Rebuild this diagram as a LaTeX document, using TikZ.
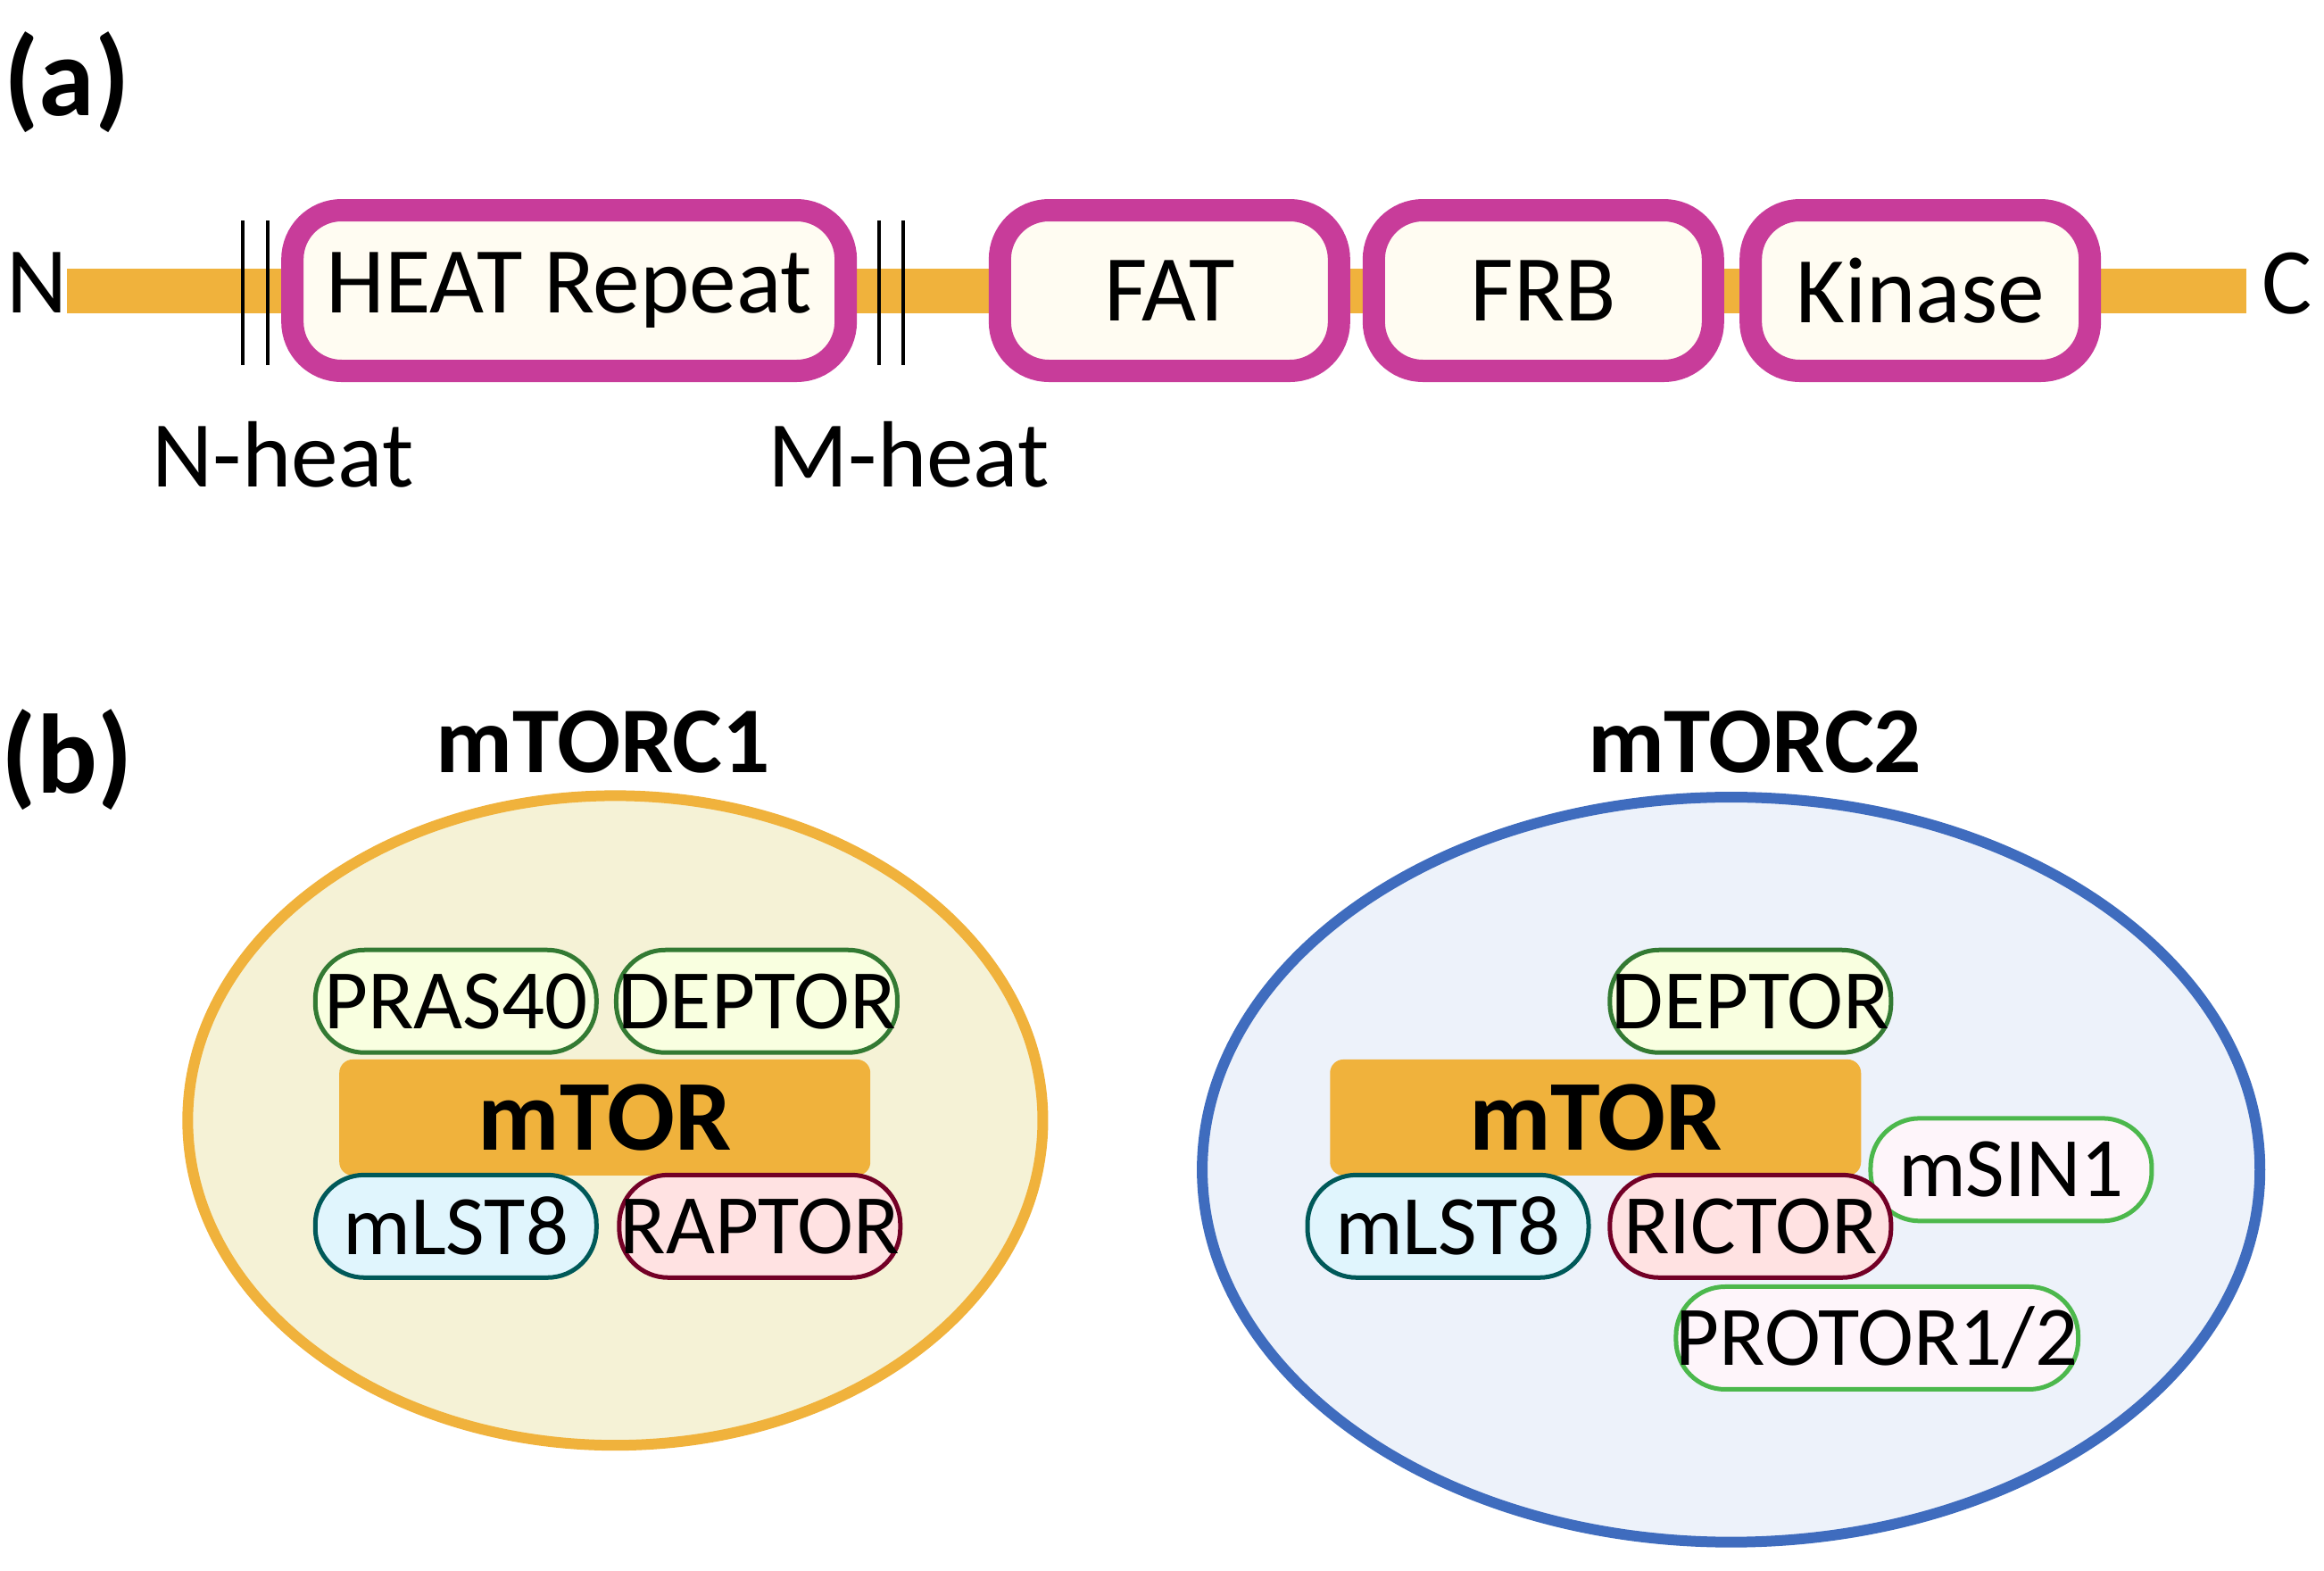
\documentclass[tikz,border=0pt]{standalone}
\usepackage{fontspec}
\setmainfont{Carlito}
\usetikzlibrary{positioning}
\definecolor{bar}{HTML}{F0B23C}
\definecolor{dom}{HTML}{C83C9A}
\definecolor{domfill}{HTML}{FFFCF2}
\definecolor{cone}{HTML}{F5F2D6}
\definecolor{ctwo}{HTML}{EDF2FA}
\definecolor{blueline}{HTML}{3F6CBE}
\tikzset{
  dombox/.style={rectangle,rounded corners=0.55cm,draw=dom,line width=0.25cm,fill=domfill,minimum height=1.8cm,font=\fontsize{30}{30}\selectfont,inner sep=0pt},
  sub/.style={rectangle,rounded corners=0.55cm,line width=0.05cm,minimum width=3.15cm,minimum height=1.15cm,font=\fontsize{27}{27}\selectfont,inner sep=0pt},
  subgreen/.style={sub,draw=green!35!black!80,fill=green!20!yellow!12},
  subcyan/.style={sub,draw=teal!70!black,fill=cyan!12},
  subpink/.style={sub,draw=purple!60!black,fill=pink!45},
  sublight/.style={sub,draw=green!60!black!70,fill=magenta!4},
  core/.style={rectangle,rounded corners=0.15cm,fill=bar,minimum width=5.95cm,minimum height=1.3cm,font=\bfseries\fontsize{32}{32}\selectfont},
  lbl/.style={font=\fontsize{30}{30}\selectfont},
  tag/.style={font=\bfseries\fontsize{36}{36}\selectfont}
}
\begin{document}
\begin{tikzpicture}[x=0.01669cm,y=-0.01669cm]
  \useasboundingbox (0,0) rectangle (1560,1054);

  % part (a)
  \node[tag] (ta) at (45,55){(a)};
  \node[lbl] (N) at (25,190){N};
  \node[lbl] (C) at (1535,190){C};
  \draw[bar,line width=0.5cm] (45,195) -- (1508,195);
  \draw[line width=0.04cm] (163,148) -- (163,245) (180,148) -- (180,245);
  \draw[line width=0.04cm] (590,148) -- (590,245) (606,148) -- (606,245);
  \node[dombox,minimum width=6.2cm] (heat) at (382,195){HEAT Repeat};
  \node[dombox,minimum width=3.8cm] (fat) at (785,195){FAT};
  \node[dombox,minimum width=3.8cm] (frb) at (1036,195){FRB};
  \node[dombox,minimum width=3.8cm] (kin) at (1289,195){Kinase};
  \node[lbl] (nh) at (190,305){N-heat};
  \node[lbl] (mh) at (610,305){M-heat};

  % part (b)
  \node[tag] (tb) at (45,510){(b)};
  \node[lbl,font=\bfseries\fontsize{30}{30}\selectfont] (c1) at (405,498){mTORC1};
  \node[lbl,font=\bfseries\fontsize{30}{30}\selectfont] (c2) at (1178,498){mTORC2};
  \draw[bar,fill=cone,line width=0.12cm] (413,752) ellipse (287 and 218);
  \draw[blueline,fill=ctwo,line width=0.12cm] (1162,785) ellipse (355 and 250);

  \node[subgreen] (pras) at (306,672){PRAS40};
  \node[subgreen] (dep1) at (508,672){DEPTOR};
  \node[core] (tor1) at (406,750){mTOR};
  \node[subcyan] (lst1) at (306,823){mLST8};
  \node[subpink] (rap) at (510,823){RAPTOR};

  \node[subgreen] (dep2) at (1175,672){DEPTOR};
  \node[core] (tor2) at (1071,750){mTOR};
  \node[sublight] (sin) at (1350,785){mSIN1};
  \node[subcyan] (lst2) at (972,823){mLST8};
  \node[subpink] (ric) at (1175,823){RICTOR};
  \node[sublight,minimum width=4cm] (pro) at (1260,898){PROTOR1/2};
\end{tikzpicture}
\end{document}
